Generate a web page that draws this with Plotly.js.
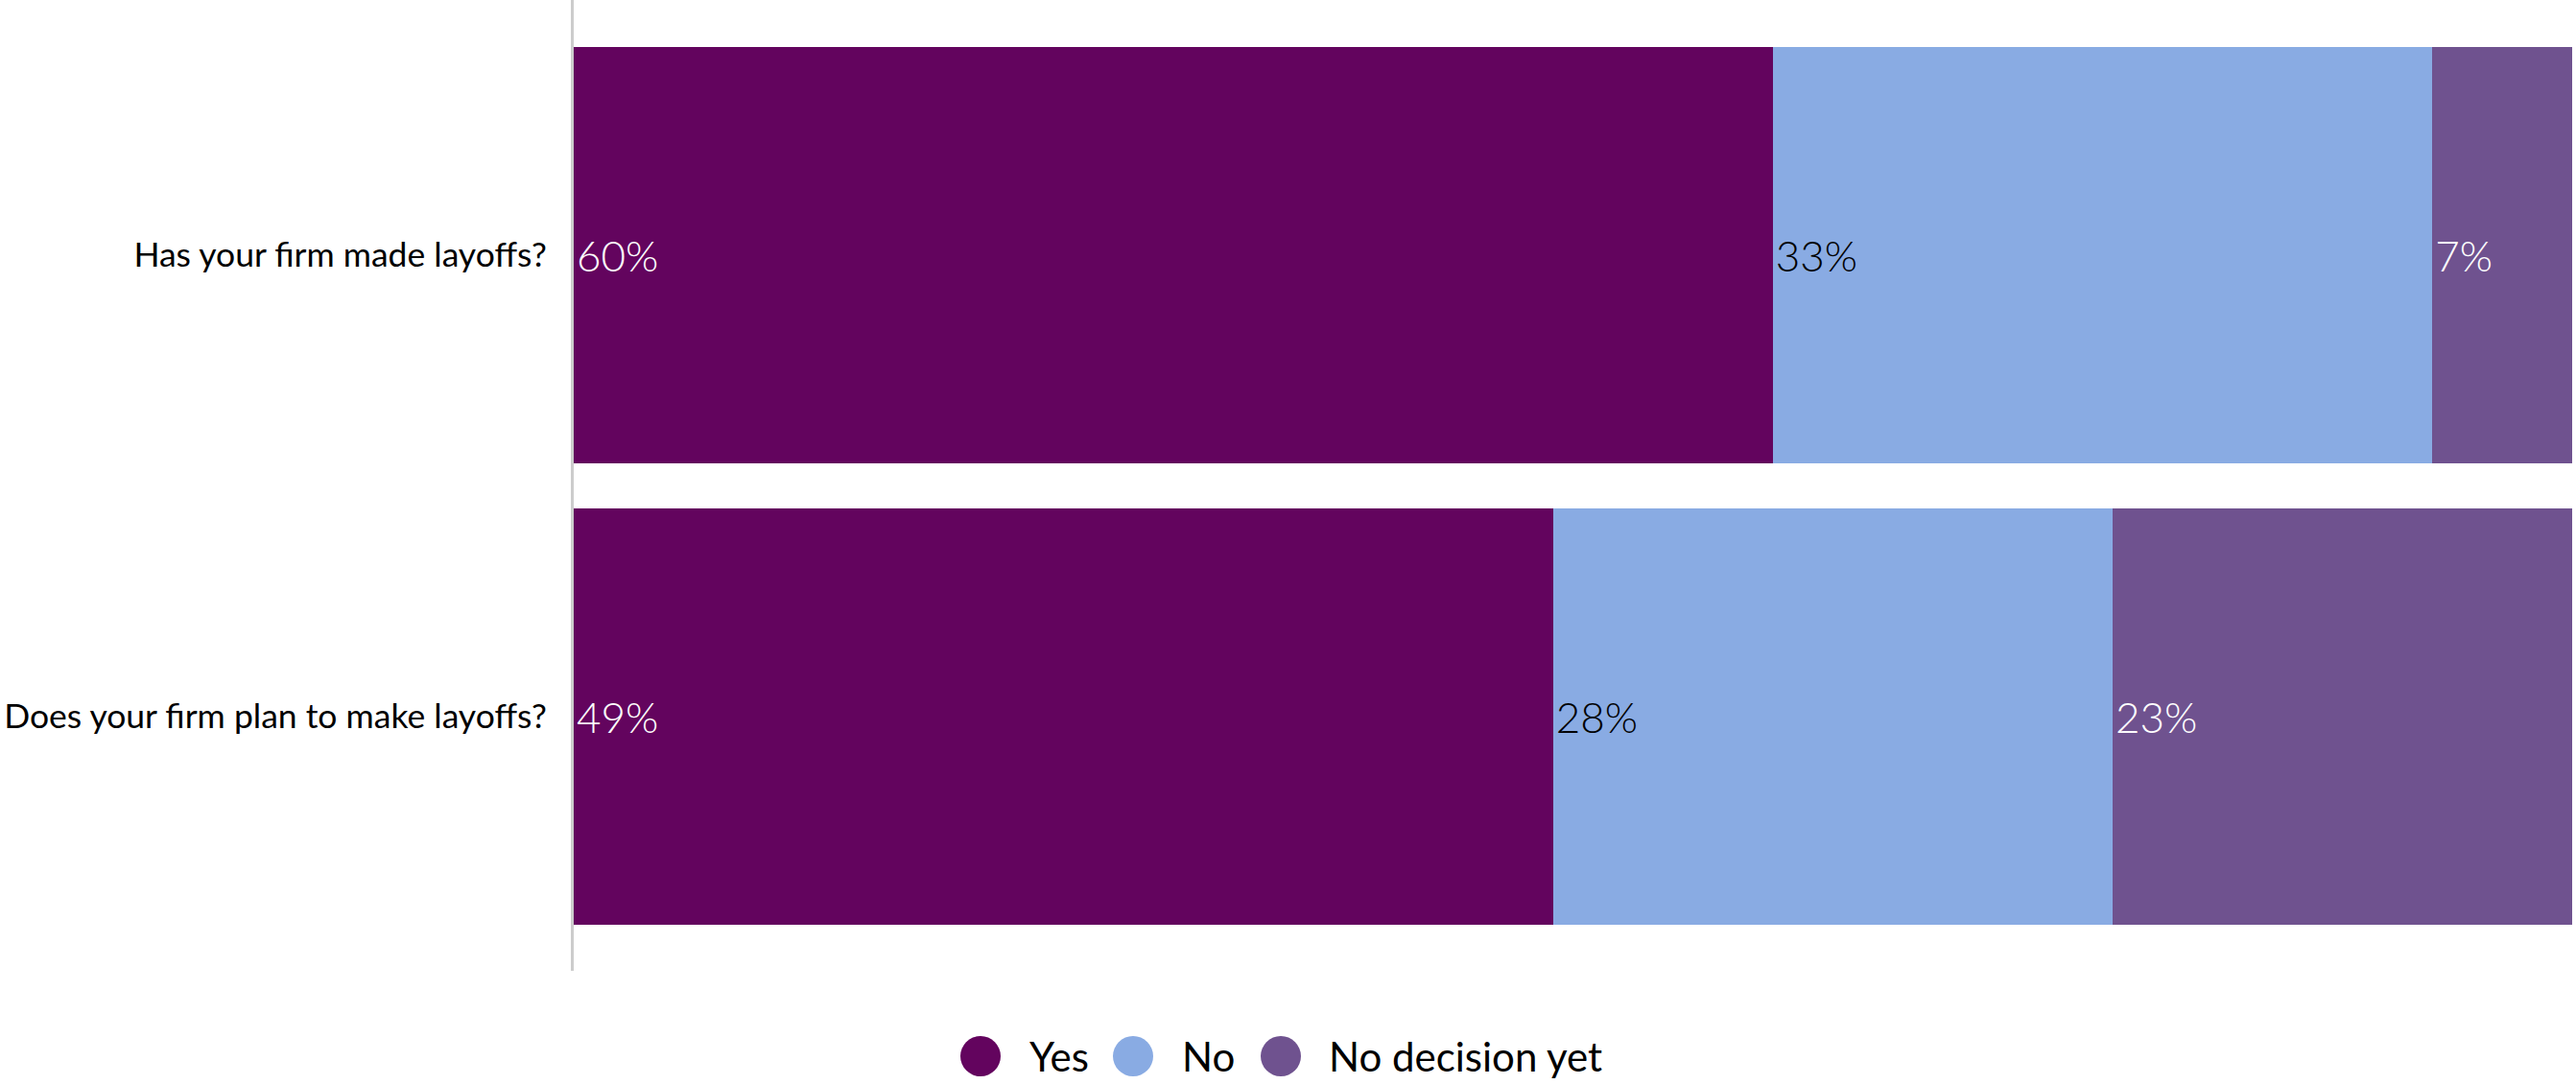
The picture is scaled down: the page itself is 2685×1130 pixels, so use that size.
<!DOCTYPE html>
<html>
<head>
<meta charset="utf-8">
<script src="https://cdn.plot.ly/plotly-3.0.1.min.js"></script>
<style>
html,body{margin:0;padding:0;background:#fff;}
#chart{width:2685px;height:1130px;}
</style>
</head>
<body>
<div id="chart"></div>
<script>
// ---- data ----
const categories = ["Has your firm made layoffs?", "Does your firm plan to make layoffs?"];
const seriesNames = ["Yes", "No", "No decision yet"];
const yesValues = [60, 49];
const noValues = [33, 28];
const undecidedValues = [7, 23];

// ---- styles ----
const seriesColors = ["#63045E", "#89ABE3", "#6F528F"];
const labelColors = ["#ffffff", "#000000", "#ffffff"];
const FONT = "Lato, 'Open Sans', sans-serif";

const W = 2685, H = 1130;
const M = {l: 598, r: 4, t: 0, b: 118};
const plotW = W - M.l - M.r, plotH = H - M.t - M.b;
const xp = px => (px - M.l) / plotW;
const yp = py => (M.t + plotH - py) / plotH;

const seriesValues = [yesValues, noValues, undecidedValues];
const traces = seriesNames.map((name, i) => ({
  type: "bar",
  orientation: "h",
  name: name,
  y: categories,
  x: seriesValues[i],
  text: seriesValues[i].map(v => v + "%"),
  textposition: "inside",
  insidetextanchor: "start",
  textangle: 0,
  constraintext: "none",
  insidetextfont: {family: FONT, size: 44, color: labelColors[i], weight: 300},
  marker: {color: seriesColors[i], line: {width: 0}},
  hoverinfo: "skip",
  showlegend: false
}));

// custom legend (large circles)
const legendCircleX = [1022, 1181, 1335];
const legendTextX = [1072, 1231, 1384];
const legendY = 1101;
const R = 21;
const shapes = seriesNames.map((n, i) => ({
  type: "circle", xref: "paper", yref: "paper",
  x0: xp(legendCircleX[i] - R), x1: xp(legendCircleX[i] + R),
  y0: yp(legendY + R), y1: yp(legendY - R),
  fillcolor: seriesColors[i], line: {width: 0}
}));
const annotations = seriesNames.map((n, i) => ({
  xref: "paper", yref: "paper",
  x: xp(legendTextX[i]), y: yp(legendY),
  xanchor: "left", yanchor: "middle",
  text: n, showarrow: false, borderpad: 0,
  font: {family: FONT, size: 42, color: "#000000"}
}));

const layout = {
  width: W, height: H,
  margin: M,
  paper_bgcolor: "#ffffff", plot_bgcolor: "#ffffff",
  barmode: "stack",
  bargap: 0.098,
  showlegend: false,
  font: {family: FONT, color: "#000000"},
  xaxis: {range: [0, 100], showgrid: false, zeroline: false, showticklabels: false, showline: false, fixedrange: true},
  yaxis: {
    type: "category",
    categoryorder: "array", categoryarray: categories,
    range: [1.551, -0.553],
    showgrid: false, zeroline: false,
    showline: true, linecolor: "#cccccc", linewidth: 3,
    ticks: "outside", ticklen: 18, tickcolor: "rgba(0,0,0,0)",
    tickfont: {family: FONT, size: 35.5, color: "#000000"},
    fixedrange: true
  },
  shapes: shapes,
  annotations: annotations
};

Plotly.newPlot("chart", traces, layout, {displayModeBar: false, staticPlot: true});
</script>
</body>
</html>
